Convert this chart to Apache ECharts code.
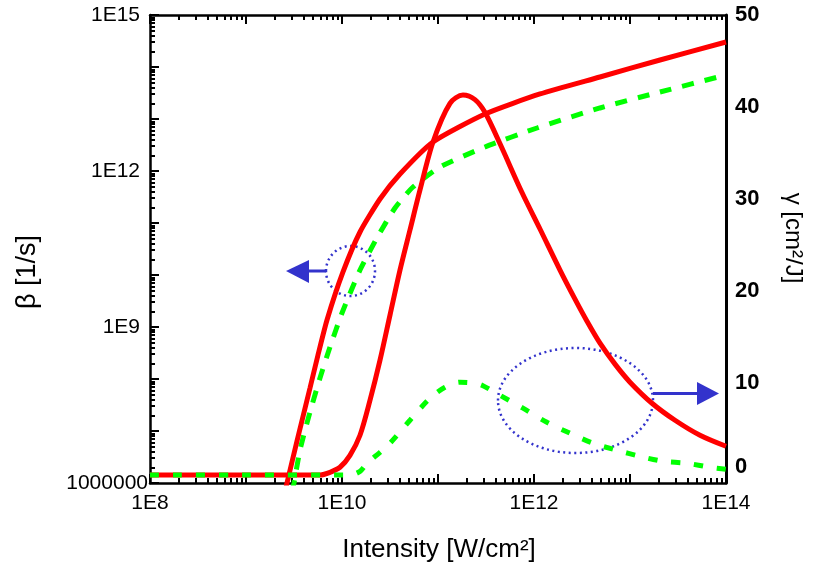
<!DOCTYPE html>
<html>
<head>
<meta charset="utf-8">
<script src="https://cdn.jsdelivr.net/npm/echarts@6/dist/echarts.min.js"></script>
<style>
  html, body { margin: 0; padding: 0; background: #ffffff; }
  #chart { width: 814px; height: 569px; }
</style>
</head>
<body>
<div id="chart"></div>
<script>
// Intensity given as log10(I [W/cm²]); β as log10(β [1/s]); γ in cm²/J.
const betaRedLogI   = [9.40625, 9.427, 9.53125, 9.6667, 9.75, 9.8438, 10.0104, 10.1875, 10.3958, 10.6042, 10.9479, 11.4896, 12.0625, 12.6875, 13.3125, 14.0];
const betaRedLog    = [5.827, 6.0, 6.808, 7.827, 8.462, 9.135, 10.058, 10.827, 11.462, 11.942, 12.558, 13.096, 13.481, 13.808, 14.135, 14.481];

const betaGreenLogI = [9.479, 9.5, 9.5625, 9.6667, 9.7708, 9.875, 10.0, 10.1875, 10.375, 10.552, 10.7396, 11.0208, 11.4896, 12.0313, 12.6875, 13.3125, 14.0];
const betaGreenLog  = [5.827, 6.0, 6.635, 7.365, 8.019, 8.615, 9.269, 10.096, 10.75, 11.288, 11.692, 12.077, 12.462, 12.827, 13.212, 13.519, 13.846];

const gammaRedLogI  = [8.0, 9.0, 9.771, 9.875, 9.979, 10.083, 10.1875, 10.292, 10.396, 10.5, 10.604, 10.708, 10.8125, 10.948, 11.125, 11.26, 11.385, 11.49, 11.646, 11.875, 12.0625, 12.2708, 12.4271, 12.552, 12.6875, 12.8438, 13.0, 13.2292, 13.4688, 13.7292, 14.0];
const gammaRed      = [0, 0, 0, 0.29, 0.84, 2.14, 4.32, 8.13, 12.48, 17.38, 22.27, 26.63, 30.98, 36.2, 40.4, 41.3, 40.8, 39.4, 36.0, 30.7, 26.74, 22.28, 19.12, 16.72, 14.33, 12.05, 10.09, 7.80, 5.95, 4.32, 3.12];

const gammaGreenLogI = [8.0, 9.0, 10.083, 10.1875, 10.26, 10.396, 10.5, 10.708, 10.917, 11.073, 11.229, 11.385, 11.458, 11.646, 11.885, 12.135, 12.375, 12.615, 12.865, 13.104, 13.344, 13.594, 13.833, 14.0];
const gammaGreen     = [0, 0, 0, 0.4, 1.27, 2.47, 3.45, 5.95, 8.35, 9.54, 10.09, 9.98, 9.76, 8.67, 7.26, 5.73, 4.54, 3.45, 2.69, 2.03, 1.49, 1.27, 0.84, 0.62];

// Axis ticks (decade exponents) and labels
const xDecades      = [8, 9, 10, 11, 12, 13, 14];
const xLabelValues  = [8, 10, 12, 14];
const yDecades      = [6, 7, 8, 9, 10, 11, 12, 13, 14, 15];
const yLabelValues  = [6, 9, 12, 15];
const gammaLabelValues = [0, 10, 20, 30, 40, 50];
const gammaAxisMin  = -0.87;
const gammaAxisMax  = 50;

const FONT = 'Liberation Sans, Arial, Helvetica, sans-serif';
const RED = '#ff0000';
const GREEN = '#00ff00';
const BLUE = '#3333cc';

// minor ticks at log10(k * 10^n), k = 2..9
function minorTicks(decades) {
  const out = [];
  for (let i = 0; i < decades.length - 1; i++) {
    for (let k = 2; k <= 9; k++) out.push(decades[i] + Math.log10(k));
  }
  return out;
}

function pairs(xs, ys) { return xs.map((x, i) => [x, ys[i]]); }

function xAxisDef(position, major) {
  return {
    type: 'value', min: 8, max: 14, position: position,
    axisLine: { show: major, onZero: false, lineStyle: { color: '#000', width: 2.5 } },
    axisTick: {
      show: true, inside: true, length: major ? 9 : 5,
      customValues: major ? xDecades : minorTicks(xDecades),
      lineStyle: { color: '#000', width: 2 }
    },
    axisLabel: {
      show: major && position === 'bottom',
      customValues: xLabelValues,
      formatter: v => '1E' + Math.round(v),
      color: '#000', fontFamily: FONT, fontSize: 21, margin: 10
    },
    splitLine: { show: false }
  };
}

function yAxisDef(major) {
  return {
    type: 'value', min: 6, max: 15, position: 'left',
    axisLine: { show: major, onZero: false, lineStyle: { color: '#000', width: 2.5 } },
    axisTick: {
      show: true, inside: true, length: major ? 9 : 5,
      customValues: major ? yDecades : minorTicks(yDecades),
      lineStyle: { color: '#000', width: 2 }
    },
    axisLabel: {
      show: major,
      customValues: yLabelValues,
      // the plain-number label sits closer to the axis than the 1E labels
      formatter: v => (Math.round(v) === 6 ? '1000000' : '{e|1E' + Math.round(v) + '}'),
      rich: { e: { fontSize: 21, fontFamily: FONT, color: '#000', padding: [0, 8, 0, 0] } },
      color: '#000', fontFamily: FONT, fontSize: 21, margin: 2
    },
    splitLine: { show: false }
  };
}

const chart = echarts.init(document.getElementById('chart'), null, { renderer: 'canvas' });

chart.setOption({
  animation: false,
  backgroundColor: '#ffffff',
  grid: { left: 150, right: 88, top: 15, bottom: 86, containLabel: false },
  xAxis: [
    xAxisDef('bottom', true),
    xAxisDef('bottom', false),
    xAxisDef('top', true),
    xAxisDef('top', false)
  ],
  yAxis: [
    yAxisDef(true),
    yAxisDef(false),
    {
      type: 'value', min: gammaAxisMin, max: gammaAxisMax, position: 'right',
      axisLine: { show: true, onZero: false, lineStyle: { color: '#000', width: 3 } },
      axisTick: { show: false },
      axisLabel: {
        customValues: gammaLabelValues,
        formatter: v => (v === 0 ? '{lift|0}' : String(v)),
        rich: { lift: { fontSize: 22, fontWeight: 'bold', fontFamily: FONT, color: '#000', padding: [0, 0, 16, 0] } },
        color: '#000', fontFamily: FONT, fontSize: 22, fontWeight: 'bold', margin: 9
      },
      splitLine: { show: false }
    }
  ],
  series: [
    {
      name: 'β (green)', type: 'line', xAxisIndex: 0, yAxisIndex: 0,
      data: pairs(betaGreenLogI, betaGreenLog),
      showSymbol: false, smooth: 0.2, clip: true, z: 3,
      lineStyle: { color: GREEN, width: 5, type: [12, 11], cap: 'butt' }
    },
    {
      name: 'β (red)', type: 'line', xAxisIndex: 0, yAxisIndex: 0,
      data: pairs(betaRedLogI, betaRedLog),
      showSymbol: false, smooth: 0.2, clip: true, z: 4,
      lineStyle: { color: RED, width: 5 }
    },
    {
      name: 'γ (red)', type: 'line', xAxisIndex: 0, yAxisIndex: 2,
      data: pairs(gammaRedLogI, gammaRed),
      showSymbol: false, smooth: 0.3, clip: true, z: 4,
      lineStyle: { color: RED, width: 5 }
    },
    {
      name: 'γ (green)', type: 'line', xAxisIndex: 0, yAxisIndex: 2,
      data: pairs(gammaGreenLogI, gammaGreen),
      showSymbol: false, smooth: 0.3, clip: true, z: 5,
      lineStyle: { color: GREEN, width: 5, type: [9, 14], cap: 'butt' }
    }
  ],
  graphic: [
    // axis titles
    {
      type: 'text', x: 439, y: 550, z: 10,
      style: { text: 'Intensity [W/cm²]', fill: '#000', font: '26px ' + FONT, align: 'center', verticalAlign: 'middle' }
    },
    {
      type: 'text', x: 28, y: 272, rotation: Math.PI / 2, z: 10,
      style: { text: 'β [1/s]', fill: '#000', font: '27px ' + FONT, align: 'center', verticalAlign: 'middle' }
    },
    {
      type: 'text', x: 793, y: 238, rotation: -Math.PI / 2, z: 10,
      style: { text: 'γ [cm²/J]', fill: '#000', font: '24px ' + FONT, align: 'center', verticalAlign: 'middle' }
    },
    // left annotation: dotted circle with arrow pointing to the β axis
    {
      type: 'ellipse', z: 1,
      shape: { cx: 350.5, cy: 271, rx: 24.5, ry: 25 },
      style: { fill: null, stroke: BLUE, lineWidth: 2.5, lineDash: [2, 3.5] }
    },
    {
      type: 'line', z: 1,
      shape: { x1: 326, y1: 271, x2: 306, y2: 271 },
      style: { stroke: BLUE, lineWidth: 3 }
    },
    {
      type: 'polygon', z: 1,
      shape: { points: [[286, 271], [309, 260], [309, 283]] },
      style: { fill: BLUE }
    },
    // right annotation: dotted ellipse with arrow pointing to the γ axis
    {
      type: 'ellipse', z: 1,
      shape: { cx: 575.5, cy: 400.5, rx: 77.5, ry: 52.5 },
      style: { fill: null, stroke: BLUE, lineWidth: 2.5, lineDash: [2, 3.5] }
    },
    {
      type: 'line', z: 1,
      shape: { x1: 653, y1: 393.5, x2: 700, y2: 393.5 },
      style: { stroke: BLUE, lineWidth: 3 }
    },
    {
      type: 'polygon', z: 1,
      shape: { points: [[697, 382], [697, 405], [719, 393.5]] },
      style: { fill: BLUE }
    }
  ]
});
</script>
</body>
</html>
